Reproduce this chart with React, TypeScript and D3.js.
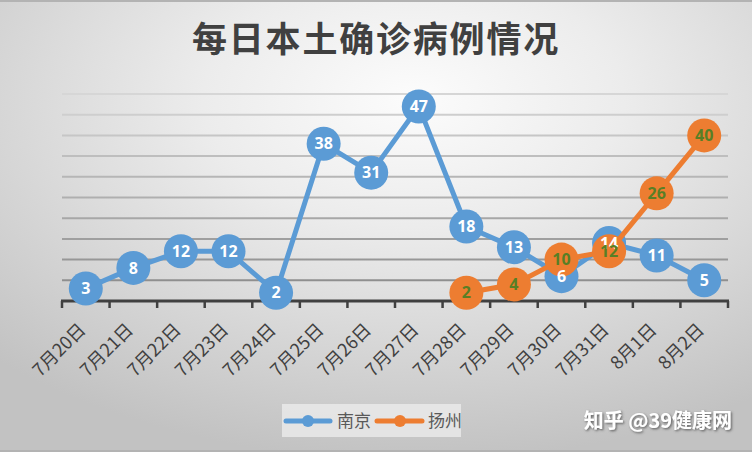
import React from "react";
import * as d3 from "d3";

const categories = ["7月20日","7月21日","7月22日","7月23日","7月24日","7月25日","7月26日","7月27日","7月28日","7月29日","7月30日","7月31日","8月1日","8月2日"];
const nanjing = [3, 8, 12, 12, 2, 38, 31, 47, 18, 13, 6, 14, 11, 5];
const yangzhouCats = ["7月28日","7月29日","7月30日","7月31日","8月1日","8月2日"];
const yangzhou = [2, 4, 10, 12, 26, 40];
const gridValues = [5, 10, 15, 20, 25, 30, 35, 40, 45, 50];
const seriesNames = ["南京", "扬州"];

const W = 752, H = 452;
const BLUE = "#5b9bd5", ORANGE = "#ed7d31";
const CJK = "'Noto Sans CJK SC', 'Noto Sans', sans-serif";

export default function App() {
  const x = d3.scaleBand<string>().domain(categories).range([62, 728]).padding(0);
  const y = d3.scaleLinear().domain([0, 50]).range([301, 94]);
  const cx = (c: string) => (x(c) as number) + x.bandwidth() / 2;
  const line = d3.line<[number, number]>().x(d => d[0]).y(d => d[1]);
  const bluePts: [number, number][] = categories.map((c, i) => [cx(c), y(nanjing[i])]);
  const orangePts: [number, number][] = yangzhouCats.map((c, i) => [cx(c), y(yangzhou[i])]);
  const gridColor = d3.scaleLinear<string>().domain([50, 5]).range(["#d6d6d6", "#8f8f8f"]);
  const R = 17;
  const ticks = categories.map(c => x(c) as number).concat([728]);

  return (
    <svg width={W} height={H} style={{ position: "absolute", left: 0, top: 0 }}>
      <defs>
        <radialGradient id="bg" cx="55%" cy="22%" r="80%" fx="55%" fy="22%">
          <stop offset="0" stopColor="#fcfcfc" />
          <stop offset="0.35" stopColor="#ececec" />
          <stop offset="1" stopColor="#c2c2c2" />
        </radialGradient>
        <filter id="shadow" x="-10%" y="-30%" width="130%" height="170%">
          <feDropShadow dx="1.2" dy="1.2" stdDeviation="0.8" floodColor="#555" floodOpacity="0.9" />
        </filter>
      </defs>
      <rect x={0} y={0} width={W} height={H} fill="url(#bg)" />
      <rect x={0} y={0} width={W} height={2} fill="#b3b3b3" />
      <rect x={0} y={H - 2} width={W} height={2} fill="#b3b3b3" />

      <text x={376} y={52} textAnchor="middle" fontFamily={CJK} fontWeight={700} fontSize={35} fill="#404040" letterSpacing={1.8}>每日本土确诊病例情况</text>

      {gridValues.map(v => (
        <line key={v} x1={62} x2={728} y1={y(v)} y2={y(v)} stroke={gridColor(v)} strokeWidth={2} />
      ))}

      <line x1={61} x2={729} y1={y(0)} y2={y(0)} stroke="#404040" strokeWidth={3} />
      {ticks.map((t, i) => (
        <line key={i} x1={t} x2={t} y1={y(0)} y2={y(0) + 7} stroke="#404040" strokeWidth={2.5} />
      ))}

      {categories.map(c => (
        <text key={c} transform={`translate(${cx(c) + 1},${331}) rotate(-45)`} textAnchor="end" fontFamily={CJK} fontSize={18} fill="#404040">{c}</text>
      ))}

      <path d={line(bluePts) as string} fill="none" stroke={BLUE} strokeWidth={5} strokeLinejoin="round" />
      {bluePts.map((p, i) => <circle key={i} cx={p[0]} cy={p[1]} r={R} fill={BLUE} />)}
      <path d={line(orangePts) as string} fill="none" stroke={ORANGE} strokeWidth={5} strokeLinejoin="round" />
      {orangePts.map((p, i) => <circle key={i} cx={p[0]} cy={p[1]} r={R} fill={ORANGE} />)}

      {bluePts.map((p, i) => (
        <text key={i} x={p[0]} y={p[1]} dy="0.36em" textAnchor="middle" fontFamily="'Open Sans', sans-serif" fontWeight={700} fontSize={16} fill="#ffffff">{nanjing[i]}</text>
      ))}
      {orangePts.map((p, i) => (
        <text key={i} x={p[0]} y={p[1]} dy="0.36em" textAnchor="middle" fontFamily="'Open Sans', sans-serif" fontWeight={700} fontSize={16} fill="#587f25">{yangzhou[i]}</text>
      ))}

      <rect x={282} y={404} width={179} height={33} fill="#ebebeb" opacity={0.8} />
      <line x1={286} x2={330} y1={421} y2={421} stroke={BLUE} strokeWidth={5} strokeLinecap="round" />
      <circle cx={308} cy={421} r={6} fill={BLUE} />
      <text x={337} y={427} fontFamily={CJK} fontSize={17} fill="#595959">{seriesNames[0]}</text>
      <line x1={377} x2={422} y1={421} y2={421} stroke={ORANGE} strokeWidth={5} strokeLinecap="round" />
      <circle cx={400} cy={421} r={6} fill={ORANGE} />
      <text x={428} y={427} fontFamily={CJK} fontSize={17} fill="#595959">{seriesNames[1]}</text>

      <text x={732} y={428} textAnchor="end" fontFamily={CJK} fontWeight={700} fontSize={20} fill="#ffffff" filter="url(#shadow)">知乎 @39健康网</text>
    </svg>
  );
}
